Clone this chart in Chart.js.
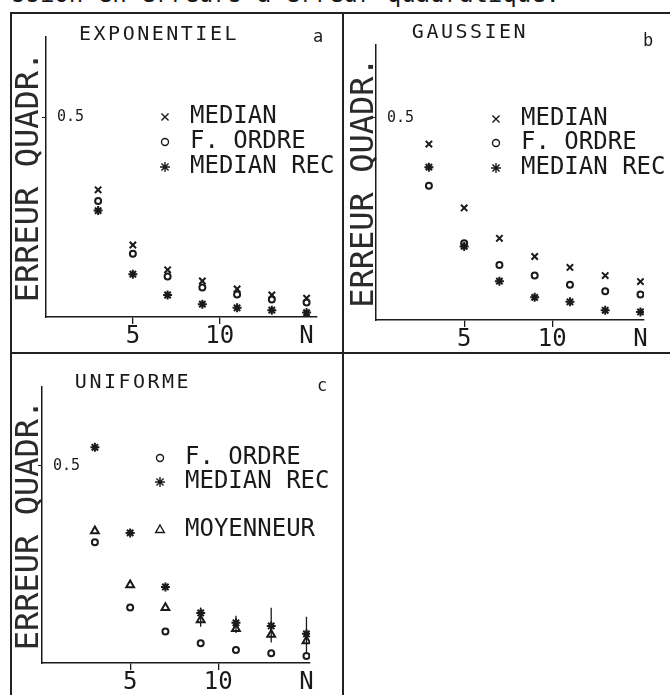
<!DOCTYPE html>
<html>
<head>
<meta charset="utf-8">
<script src="https://cdn.jsdelivr.net/npm/chart.js@4.4.1/dist/chart.umd.min.js"></script>
<style>
body { margin: 0; background: #fff; }
#page { position: relative; width: 670px; height: 695px; overflow: hidden; background: #fff;
        font-family: "DejaVu Sans Mono", monospace; color: #1a1a1a; }
.line { position: absolute; background: #222; }
canvas { position: absolute; }
#caption { position: absolute; left: 11px; top: -18px; font-size: 24px; line-height: 24px; white-space: pre; }
</style>
</head>
<body>
<div id="page">
  <div id="caption">ssion en erreurs à erreur quadratique.</div>
  <div class="line" style="left:10px;top:12px;width:660px;height:2px"></div>
  <div class="line" style="left:10px;top:12px;width:2px;height:683px"></div>
  <div class="line" style="left:342px;top:12px;width:2px;height:683px"></div>
  <div class="line" style="left:10px;top:352px;width:660px;height:2px"></div>
  <canvas id="chartA" width="330" height="338" style="left:12px;top:14px"></canvas>
  <canvas id="chartB" width="325" height="338" style="left:345px;top:14px"></canvas>
  <canvas id="chartC" width="330" height="340" style="left:12px;top:355px"></canvas>
</div>
<script>
// taille de la fenetre N
const nValues = [3, 5, 7, 9, 11, 13, 15];
const xTickValues = [5, 10, 15];
const xTickLabels = ['5', '10', 'N'];
const yTickValues = [0.5];
const yTickLabels = ['0.5'];

// a : bruit exponentiel
const expMedian    = [0.318, 0.180, 0.118, 0.090, 0.070, 0.055, 0.047];
const expOrdre     = [0.290, 0.158, 0.101, 0.074, 0.056, 0.044, 0.036];
const expMedianRec = [0.266, 0.107, 0.055, 0.032, 0.023, 0.017, 0.011];

// b : bruit gaussien
const gaussMedian    = [0.435, 0.277, 0.202, 0.157, 0.130, 0.110, 0.095];
const gaussOrdre     = [0.332, 0.190, 0.136, 0.110, 0.087, 0.071, 0.063];
const gaussMedianRec = [0.378, 0.182, 0.096, 0.056, 0.045, 0.024, 0.020];

// c : bruit uniforme
const uniOrdre     = [0.306, 0.141, 0.080, 0.050, 0.033, 0.025, 0.018];
const uniMedianRec = [0.547, 0.330, 0.193, 0.127, 0.102, 0.094, 0.074];
const uniMoyenneur = [0.335, 0.198, 0.140, 0.109, 0.087, 0.072, 0.056];
// barres verticales (c)
const uniBarN    = [9, 11, 13, 15];
const uniBarLow  = [0.092, 0.076, 0.052, 0.025];
const uniBarHigh = [0.141, 0.120, 0.140, 0.117];

const ink = '#1a1a1a';
const mono = '"DejaVu Sans Mono", monospace';

function pts(values) {
  return nValues.map((n, i) => ({ x: n, y: values[i] }));
}

function series(label, values, style, radius) {
  return {
    label: label,
    data: pts(values),
    pointStyle: style,
    pointRadius: radius,
    pointBorderWidth: 2,
    pointBorderColor: ink,
    pointBackgroundColor: 'rgba(0,0,0,0)',
    borderColor: ink
  };
}

function bars() {
  let data = [];
  uniBarN.forEach((n, i) => {
    data.push({ x: n, y: uniBarLow[i] }, { x: n, y: uniBarHigh[i] }, { x: n, y: null });
  });
  return { label: '', data: data, showLine: true, spanGaps: false, pointRadius: 0,
           borderColor: ink, borderWidth: 1.3 };
}

// titre, lettre du panneau et legende dessines dans le canvas
const panelText = {
  id: 'panelText',
  afterDraw(chart, args, opts) {
    const ctx = chart.ctx;
    ctx.save();
    ctx.fillStyle = ink;
    ctx.strokeStyle = ink;
    ctx.textBaseline = 'middle';
    ctx.textAlign = 'center';
    ctx.font = '20px ' + mono;
    ctx.letterSpacing = '2.5px';
    ctx.fillText(opts.title, opts.titleX, opts.titleY);
    ctx.letterSpacing = '0px';
    ctx.font = '17px ' + mono;
    ctx.fillText(opts.letter, opts.letterX, opts.letterY);

    ctx.textAlign = 'left';
    ctx.font = '24px ' + mono;
    let row = 0;
    chart.data.datasets.forEach(ds => {
      if (!ds.label) return;
      const y = opts.legendY[row++];
      ctx.fillStyle = 'rgba(0,0,0,0)';
      ctx.lineWidth = 1.4;
      Chart.helpers.drawPoint(ctx, { pointStyle: ds.pointStyle, radius: ds.pointRadius + 0.5, borderWidth: 1.4 },
                              opts.legendX, y);
      ctx.fillStyle = ink;
      ctx.fillText(ds.label, opts.legendX + 25, y);
    });
    ctx.restore();
  }
};

function makePanel(canvasId, datasets, p) {
  return new Chart(document.getElementById(canvasId), {
    type: 'scatter',
    data: { datasets: datasets },
    plugins: [panelText],
    options: {
      responsive: false,
      animation: false,
      devicePixelRatio: 1,
      layout: { padding: { left: 0, top: p.top, right: p.right, bottom: 0 } },
      plugins: {
        legend: { display: false },
        tooltip: { enabled: false },
        panelText: p.text
      },
      scales: {
        x: {
          type: 'linear',
          min: 0,
          max: p.xMax,
          afterFit: s => { s.height = p.xHeight; },
          afterBuildTicks: s => { s.ticks = xTickValues.map(v => ({ value: v })); },
          border: { color: ink, width: 1.5 },
          grid: {
            drawOnChartArea: false,
            tickLength: 7,
            lineWidth: 1.3,
            color: c => (c.tick && c.tick.value === 15) ? 'rgba(0,0,0,0)' : ink
          },
          ticks: {
            color: ink,
            padding: -2,
            maxRotation: 0,
            autoSkip: false,
            font: { family: mono, size: 24 },
            callback: v => xTickLabels[xTickValues.indexOf(v)]
          }
        },
        y: {
          type: 'linear',
          min: 0,
          max: p.yMax,
          afterFit: s => { s.width = p.yWidth; },
          afterBuildTicks: s => { s.ticks = yTickValues.map(v => ({ value: v })); },
          border: { color: ink, width: 1.5 },
          grid: { drawOnChartArea: false, tickLength: 4, color: ink },
          ticks: {
            mirror: true,
            padding: 11,
            color: ink,
            font: { family: mono, size: 15 },
            callback: v => yTickLabels[yTickValues.indexOf(v)]
          },
          title: {
            display: true,
            text: 'ERREUR QUADR.',
            color: '#2a2a2a',
            font: { family: mono, size: 32, lineHeight: 1 },
            padding: { top: p.titlePad, bottom: 0 }
          }
        }
      }
    }
  });
}

makePanel('chartA', [
  series('MEDIAN', expMedian, 'crossRot', 4.5),
  series('F. ORDRE', expOrdre, 'circle', 3),
  series('MEDIAN REC', expMedianRec, 'star', 4.5)
], {
  top: 23, right: 25, yWidth: 34, xHeight: 35, xMax: 15.6, yMax: 0.7, titlePad: 2,
  text: { title: 'EXPONENTIEL', titleX: 147, titleY: 21, letter: 'a', letterX: 306, letterY: 24,
          legendX: 153, legendY: [103, 128, 153] }
});

makePanel('chartB', [
  series('MEDIAN', gaussMedian, 'crossRot', 4.5),
  series('F. ORDRE', gaussOrdre, 'circle', 3),
  series('MEDIAN REC', gaussMedianRec, 'star', 4.5)
], {
  top: 31, right: 26, yWidth: 31, xHeight: 32, xMax: 15.2, yMax: 0.68, titlePad: 4,
  text: { title: 'GAUSSIEN', titleX: 125, titleY: 19, letter: 'b', letterX: 303, letterY: 28,
          legendX: 151, legendY: [105, 129, 154] }
});

makePanel('chartC', [
  series('F. ORDRE', uniOrdre, 'circle', 3),
  series('MEDIAN REC', uniMedianRec, 'star', 4.5),
  series('MOYENNEUR', uniMoyenneur, 'triangle', 4.5),
  bars()
], {
  top: 32, right: 32, yWidth: 30, xHeight: 32, xMax: 15.2, yMax: 0.70, titlePad: 2,
  text: { title: 'UNIFORME', titleX: 121, titleY: 28, letter: 'c', letterX: 310, letterY: 32,
          legendX: 148, legendY: [103, 127, 175] }
});
</script>
</body>
</html>
